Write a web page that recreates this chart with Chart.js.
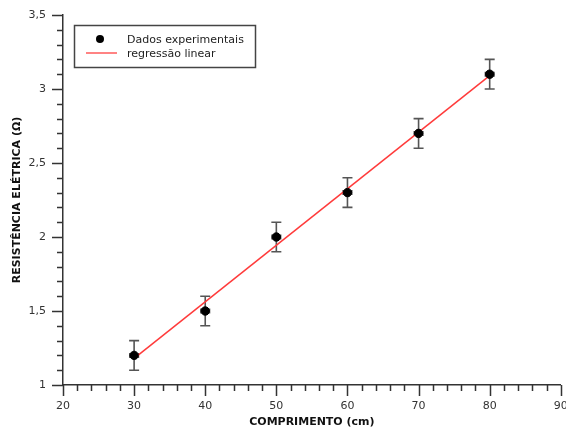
<!DOCTYPE html>
<html>
<head>
<meta charset="utf-8">
<script src="https://cdn.jsdelivr.net/npm/chart.js@4/dist/chart.umd.min.js"></script>
<style>
  html, body { margin: 0; padding: 0; background: #fff; }
  #wrap { width: 566px; height: 432px; }
</style>
</head>
<body>
<div id="wrap"><canvas id="chart" width="566" height="432"></canvas></div>
<script>
// dados medidos
const comprimento = [30, 40, 50, 60, 70, 80];
const resistencia = [1.2, 1.5, 2.0, 2.3, 2.7, 3.1];
const erroY = [0.1, 0.1, 0.1, 0.1, 0.1, 0.1];
const erroX = [0.6, 0.6, 0.6, 0.6, 0.6, 0.6];

// reta de ajuste (extremos)
const ajusteX = [30, 80];
const ajusteY = [1.18, 3.09];

const legendLabels = ['Dados experimentais', 'regressão linear'];
const axisTitles = ['COMPRIMENTO (cm)', 'RESISTÊNCIA ELÉTRICA (Ω)'];

const AXIS_COLOR = '#333';

Chart.defaults.font.family = '"DejaVu Sans", Verdana, sans-serif';
Chart.defaults.font.size = 11;
Chart.defaults.color = '#333';

const errorBars = {
  id: 'errorBars',
  beforeDatasetsDraw(chart) {
    const { ctx, scales: { x, y } } = chart;
    ctx.save();
    ctx.strokeStyle = '#555';
    ctx.lineWidth = 1.6;
    comprimento.forEach((cx, i) => {
      const px = x.getPixelForValue(cx);
      const top = y.getPixelForValue(resistencia[i] + erroY[i]);
      const bot = y.getPixelForValue(resistencia[i] - erroY[i]);
      const py = y.getPixelForValue(resistencia[i]);
      const l = x.getPixelForValue(cx - erroX[i]);
      const r = x.getPixelForValue(cx + erroX[i]);
      ctx.beginPath();
      ctx.moveTo(px, top); ctx.lineTo(px, bot);
      ctx.moveTo(px - 5, top); ctx.lineTo(px + 5, top);
      ctx.moveTo(px - 5, bot); ctx.lineTo(px + 5, bot);
      ctx.moveTo(l, py); ctx.lineTo(r, py);
      ctx.moveTo(l, py - 2.5); ctx.lineTo(l, py + 2.5);
      ctx.moveTo(r, py - 2.5); ctx.lineTo(r, py + 2.5);
      ctx.stroke();
    });
    ctx.restore();
  }
};

// marcas de escala: maiores com rotulo, menores sem
const tickMarks = {
  id: 'tickMarks',
  afterDraw(chart) {
    const { ctx, chartArea, scales: { x, y } } = chart;
    ctx.save();
    ctx.strokeStyle = AXIS_COLOR;
    ctx.lineWidth = 1.5;
    ctx.beginPath();
    x.ticks.forEach(t => {
      const px = Math.round(x.getPixelForValue(t.value)) + 0.5;
      const len = t.value % 10 === 0 ? 11 : 6;
      ctx.moveTo(px, chartArea.bottom);
      ctx.lineTo(px, chartArea.bottom + len);
    });
    y.ticks.forEach(t => {
      const py = Math.round(y.getPixelForValue(t.value)) + 0.5;
      const major = Math.abs(t.value * 2 - Math.round(t.value * 2)) < 1e-6;
      const len = major ? 11 : 6;
      ctx.moveTo(chartArea.left, py);
      ctx.lineTo(chartArea.left - len, py);
    });
    ctx.stroke();
    ctx.restore();
  }
};

const legendBox = {
  id: 'legendBox',
  afterDraw(chart) {
    const { ctx } = chart;
    ctx.save();
    ctx.strokeStyle = '#444';
    ctx.lineWidth = 1.5;
    ctx.strokeRect(74.5, 25.5, 181, 42);
    ctx.fillStyle = '#000';
    ctx.beginPath();
    ctx.arc(100, 39, 4, 0, Math.PI * 2);
    ctx.fill();
    ctx.strokeStyle = '#ff5a5a';
    ctx.lineWidth = 1.5;
    ctx.beginPath();
    ctx.moveTo(86, 53); ctx.lineTo(117, 53);
    ctx.stroke();
    ctx.fillStyle = '#222';
    ctx.font = '11px "DejaVu Sans", Verdana, sans-serif';
    ctx.textBaseline = 'middle';
    ctx.fillText(legendLabels[0], 127, 40);
    ctx.fillText(legendLabels[1], 127, 54);
    ctx.restore();
  }
};

new Chart(document.getElementById('chart'), {
  type: 'scatter',
  data: {
    datasets: [
      {
        label: legendLabels[0],
        data: comprimento.map((v, i) => ({ x: v, y: resistencia[i] })),
        backgroundColor: '#000',
        borderColor: '#000',
        pointRadius: 4.2,
        pointHoverRadius: 4.2
      },
      {
        label: legendLabels[1],
        type: 'line',
        data: ajusteX.map((v, i) => ({ x: v, y: ajusteY[i] })),
        borderColor: '#ff3b3b',
        borderWidth: 1.5,
        pointRadius: 0,
        fill: false
      }
    ]
  },
  options: {
    responsive: false,
    animation: false,
    devicePixelRatio: 1,
    layout: { padding: { top: 15, right: 3, bottom: 0, left: 0 } },
    plugins: { legend: { display: false }, tooltip: { enabled: false } },
    scales: {
      x: {
        type: 'linear',
        min: 20,
        max: 90,
        grid: { display: false, drawTicks: false },
        border: { display: true, color: AXIS_COLOR, width: 1.5 },
        ticks: {
          stepSize: 2,
          autoSkip: false,
          maxRotation: 0,
          padding: 15,
          color: '#333',
          callback: v => (v % 10 === 0 ? String(v) : '')
        },
        title: {
          display: true,
          text: axisTitles[0],
          color: '#111',
          font: { weight: 'bold', size: 11 },
          padding: { top: 0, bottom: 3 }
        },
        afterFit: s => { s.height = 47; s.paddingLeft = 0; s.paddingRight = 0; }
      },
      y: {
        type: 'linear',
        min: 1,
        max: 3.5,
        grid: { display: false, drawTicks: false },
        border: { display: true, color: AXIS_COLOR, width: 1.5 },
        ticks: {
          stepSize: 0.1,
          autoSkip: false,
          padding: 17,
          color: '#333',
          callback: v => (Math.abs(v * 2 - Math.round(v * 2)) < 1e-6 ? String(v).replace('.', ',') : '')
        },
        title: {
          display: true,
          text: axisTitles[1],
          color: '#111',
          font: { weight: 'bold', size: 11 },
          padding: { top: 11, bottom: 0 }
        },
        afterFit: s => { s.width = 63; s.paddingTop = 0; s.paddingBottom = 0; }
      }
    }
  },
  plugins: [errorBars, tickMarks, legendBox]
});
</script>
</body>
</html>
